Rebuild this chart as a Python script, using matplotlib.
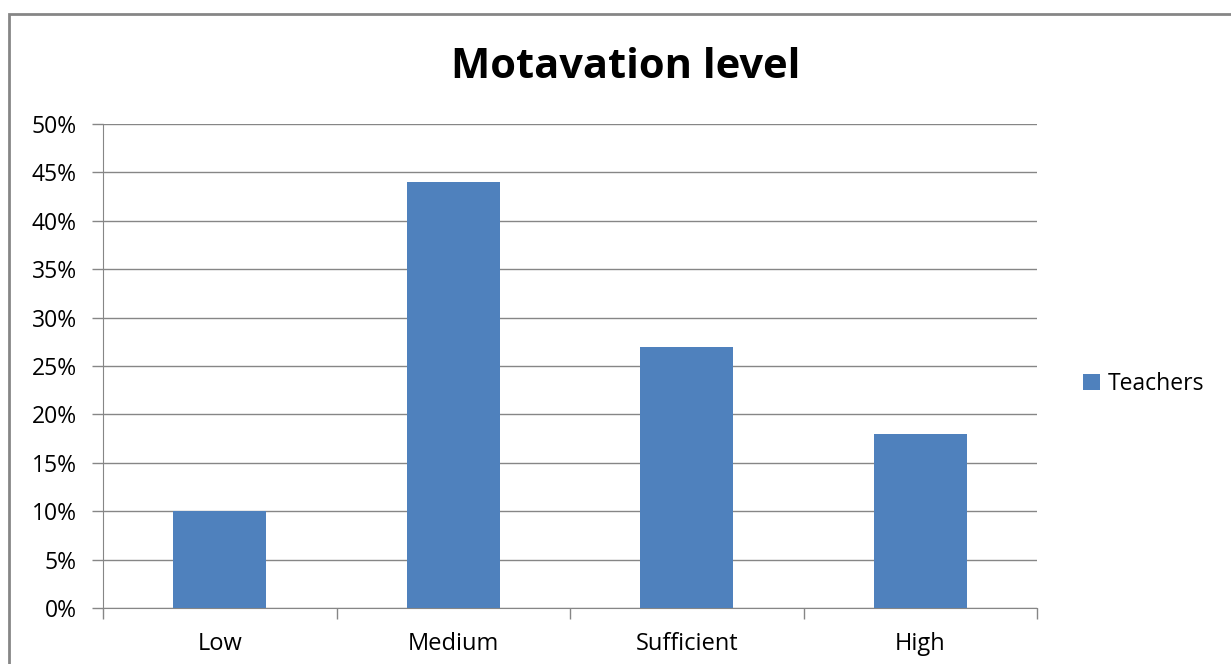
import matplotlib.pyplot as plt
from matplotlib.patches import Rectangle
from matplotlib.ticker import MultipleLocator, FuncFormatter, FixedLocator

levels = ["Low", "Medium", "Sufficient", "High"]
teachers = [10, 44, 27, 18]

bar_color = "#4F81BD"
line_color = "#868686"

plt.rcParams["font.family"] = ["Open Sans", "DejaVu Sans"]

fig = plt.figure(figsize=(12.31, 6.64), dpi=100)
W, H = 1231, 664

# outer chart frame, runs off the right and bottom edges
fig.patches.append(Rectangle((9 / W, -0.05), 1.1, (664 - 14) / H + 0.05,
                             transform=fig.transFigure, fill=False,
                             edgecolor=line_color, linewidth=2))

ax = fig.add_axes([103 / W, (H - 608) / H, (1037 - 103) / W, (608 - 124) / H])

x = list(range(len(levels)))
ax.bar(x, teachers, width=0.4, color=bar_color, label="Teachers", zorder=3)

ax.set_xlim(-0.5, len(levels) - 0.5)
ax.set_ylim(0, 50)
ax.yaxis.set_major_locator(MultipleLocator(5))
ax.yaxis.set_major_formatter(FuncFormatter(lambda v, p: f"{v:.0f}%"))
ax.grid(axis="y", color=line_color, linewidth=1, zorder=0)

# category labels between boundary tick marks
ax.xaxis.set_major_locator(FixedLocator([i - 0.5 for i in range(len(levels) + 1)]))
ax.xaxis.set_major_formatter(FuncFormatter(lambda v, p: ""))
ax.set_xticks(x, minor=True)
ax.set_xticklabels(levels, minor=True)
ax.tick_params(axis="x", which="minor", length=0, pad=17, labelsize=17)
ax.tick_params(axis="x", which="major", length=8, color=line_color, width=1)
ax.tick_params(axis="y", length=8, color=line_color, width=1, labelsize=16.5, pad=11)

for s in ["top", "right"]:
    ax.spines[s].set_visible(False)
for s in ["left", "bottom"]:
    ax.spines[s].set_color(line_color)

fig.text(626 / W, 1 - 67 / H, "Motavation level", ha="center", va="center",
         fontsize=30, fontweight="bold")

fig.legend(loc="center left", bbox_to_anchor=(1062 / W, 1 - 384 / H),
           frameon=False, fontsize=16.5, handlelength=0.75, handleheight=0.75,
           handletextpad=0.35)

fig.savefig("out.png", dpi=100)
